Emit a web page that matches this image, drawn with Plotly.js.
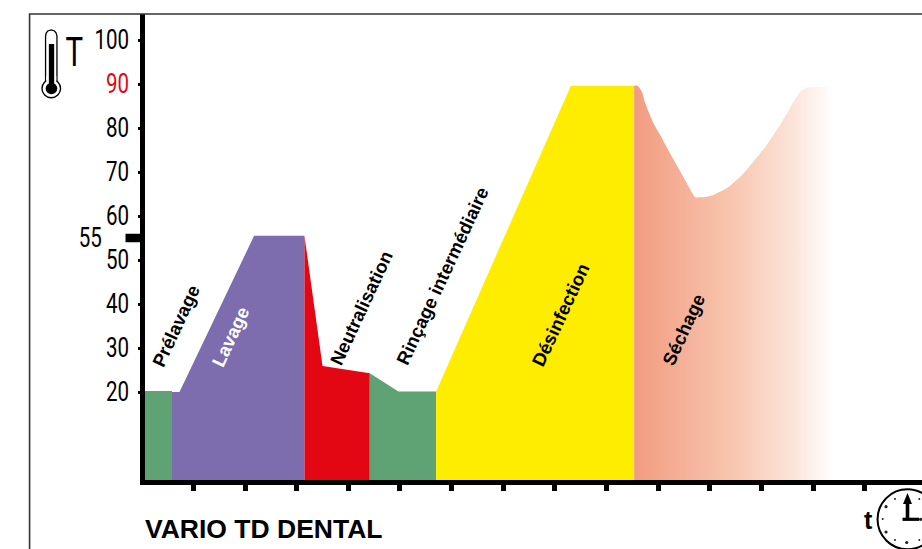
<!DOCTYPE html>
<html><head><meta charset="utf-8">
<script src="https://cdn.plot.ly/plotly-3.0.1.min.js"></script>
<style>html,body{margin:0;padding:0;background:#fff;overflow:hidden}#c{width:922px;height:549px}</style>
</head><body><div id="c"></div>
<script>
var prelavageT=[0.06,0.585], prelavageV=[20.2,20.2];
var lavageT=[0.585,0.73,2.175,3.15], lavageV=[20,20,55.5,55.5];
var neutralT=[3.15,3.50,4.415], neutralV=[55.5,25.9,24.25];
var rincageT=[4.415,4.97,5.70], rincageV=[24.25,20.1,20.1];
var desinfT=[5.70,8.31,9.535], desinfV=[20.1,89.6,89.6];
var sechageT=[9.535,9.60,9.685,9.75,9.91,10.04,10.23,10.43,10.62,10.72,10.81,10.94,11.07,11.33,11.59,11.84,12.10,12.36,12.55,12.68,12.78,12.91,13.40];
var sechageV=[89.6,89.6,88.25,85.6,81.07,78.4,74.25,70.1,66.1,64.25,64.25,64.4,64.8,66.3,68.9,72.3,76.1,80.7,84.5,87.1,88.5,89.25,89.25];
var yTicks=[20,30,40,50,60,70,80,90,100];
var yLabels=['20','30','40','50','60','70','80','<span style="color:#E30613">90</span>','100'];
var xTicks=[1,2,3,4,5,6,7,8,9,10,11,12,13,14];
var phaseLabels=[
 {text:'Prélavage',t:0.65,v:35,color:'#000'},
 {text:'Lavage',t:1.715,v:32.7,color:'#fff'},
 {text:'Neutralisation',t:4.26,v:39.1,color:'#000'},
 {text:'Rinçage intermédiaire',t:5.83,v:46.4,color:'#000'},
 {text:'Désinfection',t:8.10,v:37.5,color:'#000'},
 {text:'Séchage',t:10.50,v:34.1,color:'#000'}
];

var L=144.5,R=922,T=14,B=480;
function px(x){return (x-L)/(R-L);}
function py(y){return (B-y)/(B-T);}
function path(pts,close){return pts.map(function(p,i){return (i?'L':'M')+px(p[0])+','+py(p[1]);}).join(' ')+(close?' Z':'');}
function pshape(pts,close,o){return Object.assign({type:'path',xref:'paper',yref:'paper',path:path(pts,close),layer:'above'},o);}
function circ(cx,cy,r,o){return Object.assign({type:'circle',xref:'paper',yref:'paper',x0:px(cx-r),x1:px(cx+r),y0:py(cy+r),y1:py(cy-r),layer:'above'},o);}

function area(x,y,color,extra){return Object.assign({x:x,y:y,type:'scatter',mode:'lines',line:{width:0,color:color},fill:'tozeroy',fillcolor:color,hoverinfo:'skip',showlegend:false},extra||{});}
var data=[
 area(prelavageT,prelavageV,'#5FA273'),
 area(lavageT,lavageV,'#7D6CAE'),
 area(neutralT,neutralV,'#E30613'),
 area(rincageT,rincageV,'#5FA273'),
 area(desinfT,desinfV,'#FFED00'),
 area(sechageT,sechageV,'#F29C80',{line:{width:0,color:'#F29C80',shape:'spline',smoothing:0.6},fillgradient:{type:'horizontal',start:9.535,stop:13.40,
   colorscale:[[0,'#F29C80'],[0.5,'#F8C6B0'],[0.8,'#FCE4DA'],[1,'#FFFFFF']]}})
];

var shapes=[
 pshape([[29,549],[29,14],[922,14]],false,{line:{color:'#333',width:1.6}}),
 {type:'line',xref:'paper',yref:'y',x0:px(125),x1:px(139.5),y0:55,y1:55,line:{color:'#000',width:8.5},layer:'above'},
 // thermometer
 pshape([[45,82],[45,36],[45.6,33],[47.2,31],[50.7,30],[54,31],[55.6,33],[56.4,36],[56.4,82]],false,{line:{color:'#000',width:1.3}}),
 circ(50.7,88.5,9.3,{line:{color:'#000',width:1.4},fillcolor:'#fff'}),
 {type:'rect',xref:'paper',yref:'paper',x0:px(45.7),x1:px(55.7),y0:py(84),y1:py(76),fillcolor:'#fff',line:{width:0},layer:'above'},
 {type:'rect',xref:'paper',yref:'paper',x0:px(48.3),x1:px(53.6),y0:py(88),y1:py(44),fillcolor:'#000',line:{width:0},layer:'above'},
 circ(50.9,88.5,5.8,{fillcolor:'#000',line:{width:0}}),
 // clock
 circ(907.5,519.3,30,{line:{color:'#000',width:2},fillcolor:'#fff'}),
 pshape([[907.5,519.3],[907.5,500]],false,{line:{color:'#000',width:3.6}}),
 pshape([[907.5,493],[903,504],[912,504]],true,{fillcolor:'#000',line:{width:0}}),
 pshape([[902.5,519.3],[919,519.3]],false,{line:{color:'#000',width:3.2}})
];
[[906.7,542.5,1.6],[895,499,1],[886,506.7,1.6],[882.7,519,1],[886,532,1.6],[895,540,1],[919.3,499,1],[919.3,540,1],[920.5,519.3,1.6]].forEach(function(d){
 shapes.push(circ(d[0],d[1],d[2],{fillcolor:'#222',line:{width:0}}));
});

var LIGHT='Roboto,"Liberation Sans",sans-serif', SANS='"Liberation Sans",Arial,sans-serif';
var ann=phaseLabels.map(function(p){return {x:p.t,y:p.v,xref:'x',yref:'y',text:'<b>'+p.text+'</b>',showarrow:false,textangle:-65,font:{family:SANS,size:18.5,color:p.color},xanchor:'center',yanchor:'middle'};});
ann.push(
 {xref:'paper',yref:'y',x:px(103),y:55,xshift:3,text:'55',showarrow:false,xanchor:'right',yanchor:'middle',font:{family:LIGHT,size:27,weight:400,color:'#000'}},
 {xref:'paper',yref:'paper',x:px(73.5),y:py(51.5),text:'T',showarrow:false,xanchor:'center',yanchor:'middle',font:{family:LIGHT,size:41,weight:400,color:'#000'}},
 {xref:'paper',yref:'paper',x:px(145),y:py(529),text:'<b>VARIO TD DENTAL</b>',showarrow:false,xanchor:'left',xshift:-2,yanchor:'middle',font:{family:SANS,size:26.5,color:'#000'}},
 {xref:'paper',yref:'paper',x:px(868),y:py(520),text:'<b>t</b>',showarrow:false,xanchor:'center',yanchor:'middle',font:{family:SANS,size:25,color:'#000'}}
);

Plotly.newPlot('c',data,{
 width:922,height:549,paper_bgcolor:'#fff',plot_bgcolor:'#fff',showlegend:false,
 margin:{l:L,r:0,t:T,b:549-B,pad:0},
 xaxis:{range:[0.0619,15.11],tickmode:'array',tickvals:xTicks,ticktext:xTicks.map(function(){return '';}),ticks:'outside',ticklen:5.5,tickwidth:5,tickcolor:'#000',showline:true,linecolor:'#000',linewidth:5,showgrid:false,zeroline:false,fixedrange:true},
 yaxis:{range:[0,105.91],tickmode:'array',tickvals:yTicks,ticktext:yLabels,ticks:'outside',ticklen:2.5,tickwidth:3,tickcolor:'#000',showline:true,linecolor:'#000',linewidth:5,showgrid:false,zeroline:false,fixedrange:true,tickfont:{family:LIGHT,size:27,weight:400,color:'#000'},ticklabelstandoff:3},
 shapes:shapes,annotations:ann
},{displayModeBar:false,staticPlot:true}).then(function(){
 function squeeze(el,r){el.setAttribute('textLength',el.getComputedTextLength()*r);el.setAttribute('lengthAdjust','spacingAndGlyphs');}
 document.querySelectorAll('.ytick text').forEach(function(el){squeeze(el,0.76);});
 document.querySelectorAll('.annotation-text').forEach(function(el){
  if(el.textContent==='55')squeeze(el,0.76);
  if(el.textContent==='T')squeeze(el,0.72);
 });
});
</script></body></html>
